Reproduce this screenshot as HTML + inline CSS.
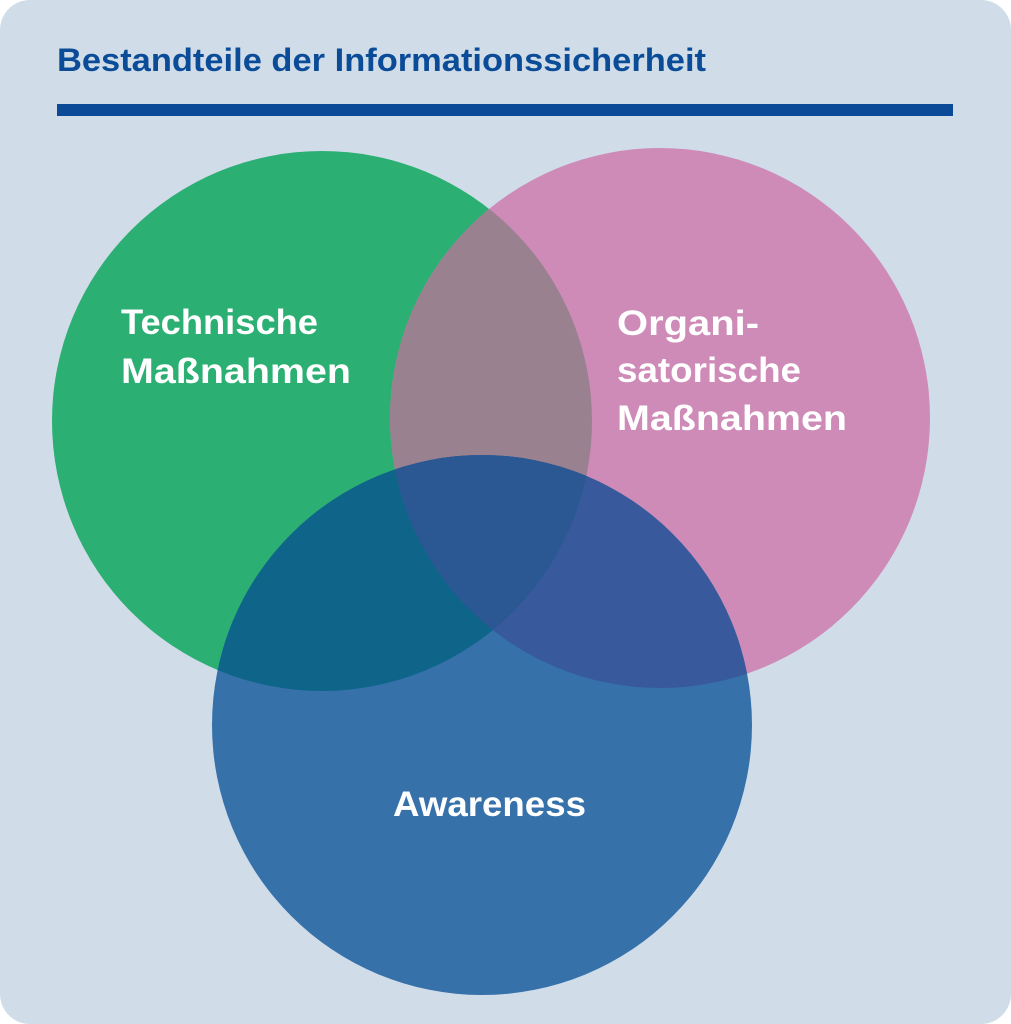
<!DOCTYPE html>
<html><head><meta charset="utf-8"><style>
html,body{margin:0;padding:0;background:#fff}
svg{display:block}
text{font-family:"Liberation Sans",sans-serif;font-weight:bold}
</style></head><body>
<svg width="1011" height="1024" viewBox="0 0 1011 1024">
<defs>
<clipPath id="g"><circle cx="322" cy="421" r="270"/></clipPath>
<clipPath id="p"><circle cx="660" cy="418" r="270"/></clipPath>
<clipPath id="b"><circle cx="482" cy="725" r="270"/></clipPath>
</defs>
<rect x="0" y="0" width="1011" height="1024" rx="30" fill="#d0dde9"/>
<text x="57" y="71" font-size="32" fill="#0b4c98" textLength="649" lengthAdjust="spacingAndGlyphs">Bestandteile der Informationssicherheit</text>
<rect x="57" y="104" width="896" height="12" fill="#0b4a97"/>
<circle cx="322" cy="421" r="270" fill="#2baf72"/>
<circle cx="660" cy="418" r="270" fill="#ce8bb8"/>
<circle cx="482" cy="725" r="270" fill="#3671aa"/>
<g clip-path="url(#g)"><circle cx="660" cy="418" r="270" fill="#9a8190"/></g>
<g clip-path="url(#g)"><circle cx="482" cy="725" r="270" fill="#0f6589"/></g>
<g clip-path="url(#p)"><circle cx="482" cy="725" r="270" fill="#385a9c"/></g>
<g clip-path="url(#g)"><g clip-path="url(#p)"><circle cx="482" cy="725" r="270" fill="#2b5893"/></g></g>
<g fill="#fff" font-size="35">
<text x="121" y="334" textLength="197" lengthAdjust="spacingAndGlyphs">Technische</text>
<text x="121" y="383" textLength="230" lengthAdjust="spacingAndGlyphs">Maßnahmen</text>
<text x="617" y="335" textLength="142" lengthAdjust="spacingAndGlyphs">Organi-</text>
<text x="617" y="382" textLength="184" lengthAdjust="spacingAndGlyphs">satorische</text>
<text x="617" y="430" textLength="230" lengthAdjust="spacingAndGlyphs">Maßnahmen</text>
<text x="393" y="816" textLength="193" lengthAdjust="spacingAndGlyphs">Awareness</text>
</g>
</svg>
</body></html>
